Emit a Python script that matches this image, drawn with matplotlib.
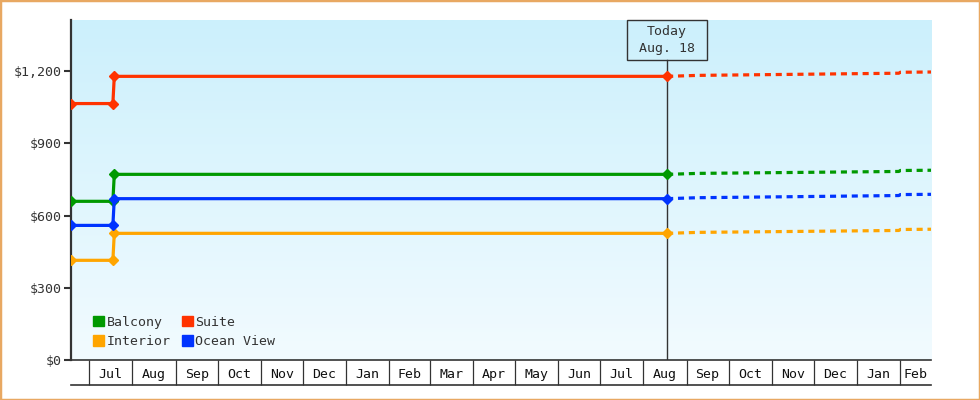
import numpy as np
import pandas as pd
import matplotlib
matplotlib.use('Agg')
import matplotlib.pyplot as plt
import matplotlib.dates as mdates
import matplotlib.transforms as mtransforms
from matplotlib.patches import Rectangle, Patch
from matplotlib.colors import LinearSegmentedColormap
from matplotlib.ticker import FuncFormatter

# prices paid so far (step change in July)
hist_dates = pd.to_datetime(['2023-06-18', '2023-07-18', '2023-07-19', '2024-08-18'])
suite_hist = [1065, 1065, 1178, 1178]
balcony_hist = [659, 659, 771, 771]
ocean_hist = [559, 559, 670, 670]
interior_hist = [414, 414, 526, 526]

# projected prices after today
proj_dates = pd.to_datetime(['2024-08-18', '2024-09-09', '2025-01-31', '2025-02-01', '2025-02-23'])
suite_proj = [1178, 1182, 1191, 1195, 1196]
balcony_proj = [771, 775, 783, 787, 788]
ocean_proj = [670, 674, 683, 687, 688]
interior_proj = [526, 530, 538, 542, 543]

today = pd.Timestamp('2024-08-18')
today_label = 'Today\nAug. 18'
x_start = pd.Timestamp('2023-06-18')
x_end = pd.Timestamp('2025-02-23')
y_ticks = [0, 300, 600, 900, 1200]

series = [
    ('Balcony', '#009900', balcony_hist, balcony_proj),
    ('Interior', '#ffa500', interior_hist, interior_proj),
    ('Suite', '#ff3300', suite_hist, suite_proj),
    ('Ocean View', '#0033ff', ocean_hist, ocean_proj),
]

plt.rcParams['font.family'] = ['DejaVu Sans Mono']

fig = plt.figure(figsize=(9.8, 4), dpi=100)
fig.patch.set_facecolor('white')
fig.patches.append(Rectangle((0, 0), 1, 1, transform=fig.transFigure, fill=False,
                             ec='#e8a862', lw=2.5, zorder=10))
ax = fig.add_axes([71 / 980, 40 / 400, 860 / 980, 340 / 400])

# background gradient
grad = LinearSegmentedColormap.from_list('bg', ['#f2fbff', '#ccf0fc'])
ax.imshow(np.linspace(0, 1, 256).reshape(-1, 1), cmap=grad, origin='lower',
          extent=[0, 1, 0, 1], transform=ax.transAxes, aspect='auto', zorder=0)

for name, color, h, p in series:
    ax.plot(hist_dates, h, color=color, lw=2.3, marker='D', ms=5.5, zorder=3)
    ax.plot(proj_dates, p, color=color, lw=2.3, dashes=(1.9, 1.5), zorder=3)

ax.set_xlim(x_start, x_end)
ax.set_ylim(0, 1412)

# today marker
ax.axvline(today, ymax=300 / 340, color='#333333', lw=1, zorder=2)
blend = mtransforms.blended_transform_factory(ax.transData, ax.transAxes)
tnum = mdates.date2num(today)
ax.add_patch(Rectangle((tnum - 28.6, 300 / 340), 57.2, 40 / 340, transform=blend,
                       fill=False, ec='#333333', lw=1, clip_on=False, zorder=4))
ax.text(tnum, 320 / 340, today_label, transform=blend, ha='center', va='center',
        fontsize=9.5, color='#333333', linespacing=1.35)

# y axis
ax.set_yticks(y_ticks)
ax.yaxis.set_major_formatter(FuncFormatter(lambda v, _: '${:,.0f}'.format(v)))
ax.tick_params(axis='y', length=5, width=1.5, color='#333333', labelsize=9.5,
               labelcolor='#333333', pad=2)
for s in ['top', 'right']:
    ax.spines[s].set_visible(False)
ax.spines['left'].set_color('#333333')
ax.spines['left'].set_linewidth(1.6)
ax.spines['bottom'].set_color('#333333')
ax.spines['bottom'].set_linewidth(1.2)

# month boxes under the axis
month_starts = pd.date_range('2023-07-01', '2025-02-01', freq='MS')
ax.set_xticks(mdates.date2num(month_starts), minor=True)
ax.tick_params(axis='x', which='minor', length=18, width=0.9, color='#333333')
centers = []
labels = []
for m in month_starts:
    a = mdates.date2num(m)
    b = min(mdates.date2num(m + pd.offsets.MonthBegin(1)), mdates.date2num(x_end))
    centers.append((a + b) / 2)
    labels.append(m.strftime('%b'))
ax.set_xticks(centers)
ax.set_xticklabels(labels)
ax.tick_params(axis='x', which='major', length=0, labelsize=9.5, pad=6, labelcolor='#111111')
ax.plot([0, 1], [-25 / 340, -25 / 340], transform=ax.transAxes, color='#333333',
        lw=1.2, clip_on=False)

handles = [Patch(color=c, label=n) for n, c, _, _ in series]
ax.legend(handles=handles, ncol=2, loc='lower left', bbox_to_anchor=(0.012, 0.0),
          frameon=False, fontsize=9.5, handlelength=0.8, handleheight=0.8,
          handletextpad=0.2, columnspacing=0.9, labelspacing=0.5,
          labelcolor='#333333')

fig.savefig('out.png', dpi=100)
